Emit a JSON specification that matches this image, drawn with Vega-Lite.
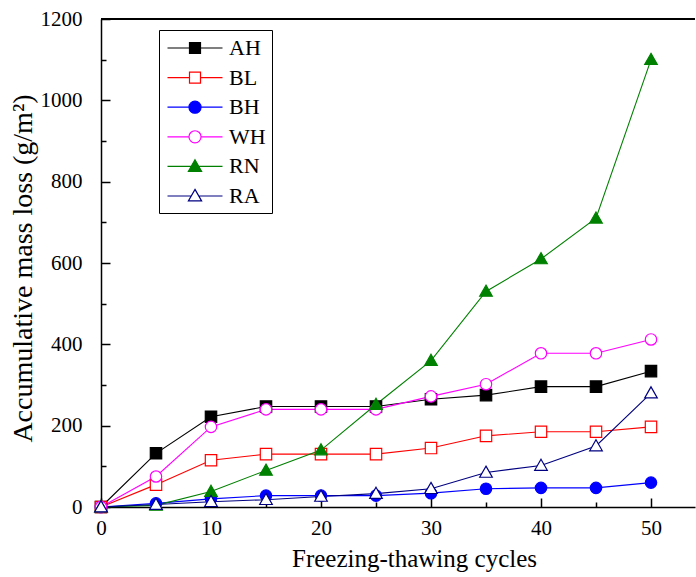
{
  "$schema": "https://vega.github.io/schema/vega-lite/v6.json",
  "width": 594,
  "height": 488,
  "autosize": {"type": "none"},
  "padding": {"left": 101, "top": 19, "right": 1, "bottom": 70},
  "background": "white",
  "config": {
    "view": {"stroke": null},
    "font": "Liberation Serif",
    "style": {"guide-label": {"font": "Liberation Serif"}, "guide-title": {"font": "Liberation Serif"}},
    "axis": {"labelFont": "Liberation Serif", "titleFont": "Liberation Serif", "labelColor": "black", "titleColor": "black", "domainColor": "black", "tickColor": "black", "grid": false, "titleFontWeight": "normal", "labelFlush": false},
    "legend": {"labelFont": "Liberation Serif"}
  },
  "datasets": {
    "main": [
      {"cycle": 0, "series": "AH", "loss": 0}, {"cycle": 5, "series": "AH", "loss": 132}, {"cycle": 10, "series": "AH", "loss": 222}, {"cycle": 15, "series": "AH", "loss": 247}, {"cycle": 20, "series": "AH", "loss": 247}, {"cycle": 25, "series": "AH", "loss": 247}, {"cycle": 30, "series": "AH", "loss": 265}, {"cycle": 35, "series": "AH", "loss": 275}, {"cycle": 40, "series": "AH", "loss": 296}, {"cycle": 45, "series": "AH", "loss": 296}, {"cycle": 50, "series": "AH", "loss": 334},
      {"cycle": 0, "series": "BL", "loss": 0}, {"cycle": 5, "series": "BL", "loss": 55}, {"cycle": 10, "series": "BL", "loss": 115}, {"cycle": 15, "series": "BL", "loss": 130}, {"cycle": 20, "series": "BL", "loss": 130}, {"cycle": 25, "series": "BL", "loss": 130}, {"cycle": 30, "series": "BL", "loss": 145}, {"cycle": 35, "series": "BL", "loss": 175}, {"cycle": 40, "series": "BL", "loss": 185}, {"cycle": 45, "series": "BL", "loss": 185}, {"cycle": 50, "series": "BL", "loss": 197},
      {"cycle": 0, "series": "BH", "loss": 0}, {"cycle": 5, "series": "BH", "loss": 9}, {"cycle": 10, "series": "BH", "loss": 20}, {"cycle": 15, "series": "BH", "loss": 28}, {"cycle": 20, "series": "BH", "loss": 28}, {"cycle": 25, "series": "BH", "loss": 28}, {"cycle": 30, "series": "BH", "loss": 34}, {"cycle": 35, "series": "BH", "loss": 45}, {"cycle": 40, "series": "BH", "loss": 47}, {"cycle": 45, "series": "BH", "loss": 47}, {"cycle": 50, "series": "BH", "loss": 60},
      {"cycle": 0, "series": "WH", "loss": 0}, {"cycle": 5, "series": "WH", "loss": 75}, {"cycle": 10, "series": "WH", "loss": 197}, {"cycle": 15, "series": "WH", "loss": 240}, {"cycle": 20, "series": "WH", "loss": 240}, {"cycle": 25, "series": "WH", "loss": 240}, {"cycle": 30, "series": "WH", "loss": 272}, {"cycle": 35, "series": "WH", "loss": 302}, {"cycle": 40, "series": "WH", "loss": 378}, {"cycle": 45, "series": "WH", "loss": 378}, {"cycle": 50, "series": "WH", "loss": 412},
      {"cycle": 0, "series": "RN", "loss": 0}, {"cycle": 5, "series": "RN", "loss": 4}, {"cycle": 10, "series": "RN", "loss": 38}, {"cycle": 15, "series": "RN", "loss": 90}, {"cycle": 20, "series": "RN", "loss": 140}, {"cycle": 25, "series": "RN", "loss": 252}, {"cycle": 30, "series": "RN", "loss": 360}, {"cycle": 35, "series": "RN", "loss": 530}, {"cycle": 40, "series": "RN", "loss": 610}, {"cycle": 45, "series": "RN", "loss": 710}, {"cycle": 50, "series": "RN", "loss": 1100},
      {"cycle": 0, "series": "RA", "loss": 0}, {"cycle": 5, "series": "RA", "loss": 6}, {"cycle": 10, "series": "RA", "loss": 13}, {"cycle": 15, "series": "RA", "loss": 18}, {"cycle": 20, "series": "RA", "loss": 26}, {"cycle": 25, "series": "RA", "loss": 33}, {"cycle": 30, "series": "RA", "loss": 45}, {"cycle": 35, "series": "RA", "loss": 85}, {"cycle": 40, "series": "RA", "loss": 102}, {"cycle": 45, "series": "RA", "loss": 150}, {"cycle": 50, "series": "RA", "loss": 280}
    ],
    "keys": [
      {"series": "AH"}, {"series": "BL"}, {"series": "BH"}, {"series": "WH"}, {"series": "RN"}, {"series": "RA"}
    ]
  },
  "resolve": {
    "axis": {"x": "independent", "y": "independent"},
    "scale": {"stroke": "independent", "fill": "independent", "shape": "independent"}
  },
  "layer": [
    {
      "data": {"name": "main"},
      "mark": {"type": "rule", "stroke": "black", "strokeWidth": 1.5},
      "encoding": {"y": {"datum": 1200, "type": "quantitative", "scale": {"domain": [0, 1200], "nice": false}, "axis": null}}
    },
    {
      "data": {"name": "main"},
      "mark": {"type": "line", "strokeWidth": 1.1},
      "encoding": {
        "x": {"field": "cycle", "type": "quantitative", "scale": {"domain": [0, 54], "nice": false},
          "axis": {"orient": "bottom", "values": [0, 10, 20, 30, 40, 50], "format": "d", "labelFlush": false, "tickSize": -9, "tickWidth": 1.5, "domainWidth": 1.5, "labelFont": "Liberation Serif", "labelFontSize": 21, "labelPadding": 19, "title": "Freezing-thawing cycles", "titleFont": "Liberation Serif", "titleFontSize": 25, "titlePadding": 8, "titleX": 313}},
        "y": {"field": "loss", "type": "quantitative", "scale": {"domain": [0, 1200], "nice": false},
          "axis": {"orient": "left", "values": [0, 200, 400, 600, 800, 1000, 1200], "format": "d", "labelFlush": false, "tickSize": -9, "tickWidth": 1.5, "domainWidth": 1.5, "labelFont": "Liberation Serif", "labelFontSize": 21, "labelPadding": 28, "title": "Accumulative mass loss (g/m²)", "titleFont": "Liberation Serif", "titleFontSize": 28, "titlePadding": 3, "titleY": 249}},
        "stroke": {"field": "series", "type": "nominal", "legend": null,
          "scale": {"domain": ["AH", "BL", "BH", "WH", "RN", "RA"], "range": ["#000000", "#ff0000", "#0000ff", "#ff00ff", "#008000", "#000080"]}}
      }
    },
    {
      "data": {"name": "main"},
      "mark": {"type": "point", "size": 144, "strokeWidth": 1.2, "opacity": 1},
      "encoding": {
        "x": {"field": "cycle", "type": "quantitative", "scale": {"domain": [0, 54], "nice": false},
          "axis": {"orient": "bottom", "values": [5, 15, 25, 35, 45], "tickSize": -5, "tickWidth": 1.5, "labels": false, "domain": false, "title": null}},
        "y": {"field": "loss", "type": "quantitative", "scale": {"domain": [0, 1200], "nice": false},
          "axis": {"orient": "left", "values": [100, 300, 500, 700, 900, 1100], "tickSize": -5, "tickWidth": 1.5, "labels": false, "domain": false, "title": null}},
        "stroke": {"field": "series", "type": "nominal", "legend": null,
          "scale": {"domain": ["AH", "BL", "BH", "WH", "RN", "RA"], "range": ["#000000", "#ff0000", "#0000ff", "#ff00ff", "#008000", "#000080"]}},
        "fill": {"field": "series", "type": "nominal", "legend": null,
          "scale": {"domain": ["AH", "BL", "BH", "WH", "RN", "RA"], "range": ["#000000", "#ffffff", "#0000ff", "#ffffff", "#008000", "#ffffff"]}},
        "shape": {"field": "series", "type": "nominal", "legend": null,
          "scale": {"domain": ["AH", "BL", "BH", "WH", "RN", "RA"], "range": [
            "M-0.95,-0.95H0.95V0.95H-0.95Z",
            "M-0.95,-0.95H0.95V0.95H-0.95Z",
            "M0.95,0A0.95,0.95 0 1,1 -0.95,0A0.95,0.95 0 1,1 0.95,0Z",
            "M0.95,0A0.95,0.95 0 1,1 -0.95,0A0.95,0.95 0 1,1 0.95,0Z",
            "M0,-1.05L1.05,0.8H-1.05Z",
            "M0,-1.05L1.05,0.8H-1.05Z"]}}
      }
    },
    {
      "data": {"name": "keys"},
      "mark": {"type": "point", "opacity": 0, "size": 484},
      "encoding": {
        "stroke": {"field": "series", "type": "nominal",
          "scale": {"domain": ["AH", "BL", "BH", "WH", "RN", "RA"], "range": ["#000000", "#ff0000", "#0000ff", "#ff00ff", "#008000", "#000080"]},
          "legend": {"title": null, "orient": "none", "legendX": 58, "legendY": 11, "padding": 6, "strokeColor": "black", "fillColor": "white", "symbolSize": 484, "symbolOpacity": 1, "symbolStrokeWidth": 1.2, "symbolOffset": 18, "labelOffset": 22, "rowPadding": 6.6, "labelFontSize": 22, "labelColor": "black", "labelFont": "Liberation Serif"}},
        "fill": {"field": "series", "type": "nominal",
          "scale": {"domain": ["AH", "BL", "BH", "WH", "RN", "RA"], "range": ["#000000", "#ffffff", "#0000ff", "#ffffff", "#008000", "#ffffff"]},
          "legend": {"title": null, "orient": "none", "legendX": 58, "legendY": 11, "padding": 6, "strokeColor": "black", "fillColor": "white", "symbolSize": 484, "symbolOpacity": 1, "symbolStrokeWidth": 1.2, "symbolOffset": 18, "labelOffset": 22, "rowPadding": 6.6, "labelFontSize": 22, "labelColor": "black", "labelFont": "Liberation Serif"}},
        "shape": {"field": "series", "type": "nominal",
          "scale": {"domain": ["AH", "BL", "BH", "WH", "RN", "RA"], "range": [
            "M-2.5,0H-0.5M0.5,0H2.5M-0.5,-0.5H0.5V0.5H-0.5Z",
            "M-2.5,0H-0.5M0.5,0H2.5M-0.5,-0.5H0.5V0.5H-0.5Z",
            "M-2.5,0H-0.55M0.55,0H2.5M0.55,0A0.55,0.55 0 1,1 -0.55,0A0.55,0.55 0 1,1 0.55,0Z",
            "M-2.5,0H-0.55M0.55,0H2.5M0.55,0A0.55,0.55 0 1,1 -0.55,0A0.55,0.55 0 1,1 0.55,0Z",
            "M-2.5,0H-0.3M0.3,0H2.5M0,-0.6L0.6,0.45H-0.6Z",
            "M-2.5,0H-0.3M0.3,0H2.5M0,-0.6L0.6,0.45H-0.6Z"]},
          "legend": {"title": null, "orient": "none", "legendX": 58, "legendY": 11, "padding": 6, "strokeColor": "black", "fillColor": "white", "symbolSize": 484, "symbolOpacity": 1, "symbolStrokeWidth": 1.2, "symbolOffset": 18, "labelOffset": 22, "rowPadding": 6.6, "labelFontSize": 22, "labelColor": "black", "labelFont": "Liberation Serif"}}
      }
    }
  ]
}
